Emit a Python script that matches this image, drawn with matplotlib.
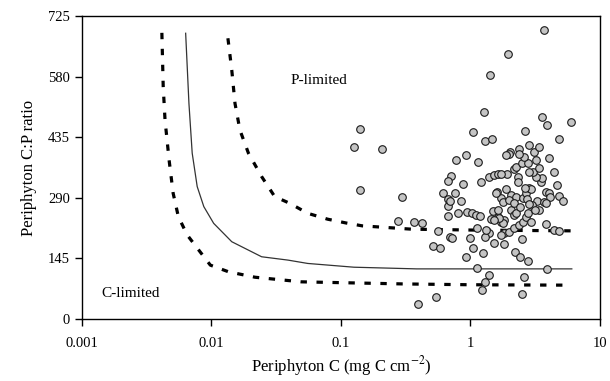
import numpy as np
import matplotlib
matplotlib.use('Agg')
import matplotlib.pyplot as plt
from matplotlib.ticker import FixedLocator, NullLocator

# observed periphyton samples (mg C cm-2, C:P molar ratio)
carbon = [0.127, 0.140, 0.206, 0.140, 0.297, 0.275, 0.364, 0.422, 0.393, 0.540,
          0.560, 0.518, 0.583, 0.695, 0.716, 0.618, 0.675, 0.675, 0.695, 0.675,
          0.759, 0.853, 0.805, 0.707, 0.675, 0.772, 0.879, 0.932, 1.048, 1.145,
          1.272, 1.302, 1.464, 1.405, 1.941, 3.703, 0.948, 1.036, 1.111, 1.192,
          1.131, 0.988, 1.048, 0.921, 1.250, 1.131, 1.380, 1.302, 1.228, 1.380,
          1.302, 1.517, 1.809, 1.809, 1.726, 1.447, 1.628, 1.491, 1.628, 1.214,
          1.389, 1.517, 1.647, 1.919, 1.609, 1.726, 1.885, 2.059, 2.249, 2.529,
          2.680, 2.843, 2.962, 2.729, 3.292, 3.703, 3.813, 4.045, 4.116, 4.823,
          5.205, 4.628, 4.416, 3.491, 3.595, 3.198, 3.069, 3.389, 2.315, 2.343,
          2.158, 2.249, 2.485, 2.761, 2.604, 4.060, 2.035, 2.000, 2.384, 3.105,
          2.860, 3.389, 2.649, 4.823, 3.595, 3.927, 5.994, 1.726, 1.777, 2.059,
          2.158, 1.830, 1.777, 1.726, 2.000, 2.183, 2.384, 2.529, 2.680, 2.962,
          2.485, 2.208, 2.412, 2.761, 3.813, 4.416, 4.823, 3.927, 2.573, 2.485,
          3.014, 3.389, 3.813, 2.761, 2.249, 1.320, 1.885, 1.580, 1.670, 1.530,
          2.000, 2.180, 2.410, 2.843, 3.150, 2.649, 3.230, 2.843, 2.360]
cp_ratio = [412, 455, 407, 308, 292, 235, 233, 230, 36, 52,
            211, 175, 171, 197, 193, 302, 287, 270, 283, 246,
            302, 282, 254, 342, 330, 380, 322, 392, 447, 375,
            495, 427, 432, 585, 635, 691, 257, 254, 250, 246,
            219, 193, 171, 149, 159, 121, 105, 89, 69, 207,
            197, 181, 179, 205, 233, 239, 245, 259, 262, 327,
            341, 345, 347, 347, 305, 289, 310, 297, 293, 289,
            301, 313, 310, 287, 282, 281, 305, 301, 293, 295,
            282, 321, 353, 327, 337, 341, 353, 361, 341, 329,
            359, 365, 373, 373, 388, 386, 399, 394, 406, 399,
            416, 411, 450, 432, 484, 464, 472, 347, 281, 261,
            249, 237, 229, 201, 209, 217, 225, 233, 245, 233,
            191, 161, 148, 139, 227, 213, 211, 119, 100, 60,
            273, 261, 277, 253, 253, 213, 392, 302, 241, 237,
            285, 277, 269, 275, 262, 313, 380, 353, 394]

# model boundaries
lower_x = [0.00414, 0.00424, 0.00438, 0.00471, 0.00506, 0.00555, 0.0065, 0.00798,
           0.0098, 0.01355, 0.0217, 0.0493, 0.1, 0.3, 1.0, 6.07]
lower_y = [685, 556, 476, 380, 301, 245, 201, 165, 129, 113, 100, 89, 87, 84, 82, 81]

mid_x = [0.00632, 0.0067, 0.0071, 0.00776, 0.00873, 0.0104, 0.01435, 0.0244,
         0.039, 0.0554, 0.126, 0.385, 1.0, 6.07]
mid_y = [684, 516, 397, 317, 269, 229, 185, 149, 141, 133, 124, 120, 120, 120]

upper_x = [0.0134, 0.01435, 0.0152, 0.0166, 0.0193, 0.0244, 0.0308, 0.0402,
           0.0554, 0.0788, 0.109, 0.146, 0.227, 0.352, 1.0, 6.07]
upper_y = [672, 596, 516, 452, 397, 341, 293, 277, 253, 239, 230, 223, 219, 215, 213, 211]

x_ticks = [0.001, 0.01, 0.1, 1, 10]
x_ticklabels = ['0.001', '0.01', '0.1', '1', '10']
y_ticks = [0, 145, 290, 435, 580, 725]

plt.rcParams['font.family'] = ['Liberation Serif', 'DejaVu Serif']
plt.rcParams['mathtext.fontset'] = 'stix'

fig = plt.figure(figsize=(6.1, 3.81), dpi=100)
ax = fig.add_axes([0.1344, 0.1627, 0.849, 0.795])

ax.plot(lower_x, lower_y, color='black', lw=2.3, linestyle=(0, (2, 3)))
ax.plot(mid_x, mid_y, color='#333333', lw=0.9)
ax.plot(upper_x, upper_y, color='black', lw=2.3, linestyle=(0, (2, 3)))

ax.scatter(carbon, cp_ratio, s=30, facecolor='#c4c4c4', edgecolor='#1a1a1a',
           linewidth=0.8, zorder=3)

ax.text(0.041, 572, 'P-limited', fontsize=11, va='center', ha='left')
ax.text(0.0014, 62, 'C-limited', fontsize=11, va='center', ha='left')

ax.set_xscale('log')
ax.set_xlim(0.001, 10)
ax.set_ylim(0, 725)
ax.xaxis.set_major_locator(FixedLocator(x_ticks))
ax.xaxis.set_minor_locator(NullLocator())
ax.set_xticklabels(x_ticklabels)
ax.set_yticks(y_ticks)
ax.tick_params(axis='both', direction='out', length=5, width=1,
               labelsize=10.5, top=False, right=False)
ax.tick_params(axis='x', pad=8)

for s in ax.spines.values():
    s.set_linewidth(1.0)

ax.set_xlabel('Periphyton C (mg C cm$^{-2}$)', fontsize=12, labelpad=3)
ax.set_ylabel('Periphyton C:P ratio', fontsize=12, labelpad=8)

fig.savefig('out.png', dpi=100)
